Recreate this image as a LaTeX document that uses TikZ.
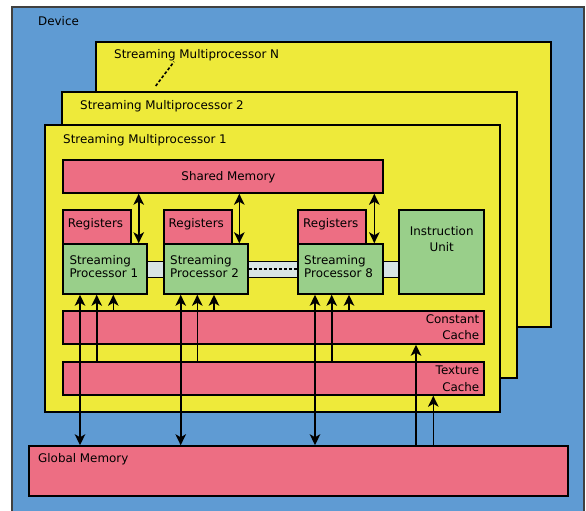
\documentclass[tikz,border=0pt]{standalone}
\usepackage{fontspec}
\setmainfont{DejaVu Sans}
\usetikzlibrary{arrows.meta,fit}
\definecolor{devblue}{RGB}{95,155,211}
\definecolor{smyellow}{RGB}{238,234,58}
\definecolor{mempink}{RGB}{237,110,131}
\definecolor{spgreen}{RGB}{153,207,138}
\definecolor{barcol}{RGB}{216,228,228}
\begin{document}
\begin{tikzpicture}[x=1pt,y=-1pt,
  box/.style={draw=black, line width=1.5pt, inner sep=0pt, rectangle},
  devbox/.style={box, draw=black!75, fill=devblue},
  smbox/.style={box, fill=smyellow},
  membox/.style={box, fill=mempink},
  spbox/.style={box, fill=spgreen},
  barbox/.style={box, line width=0.9pt, fill=barcol},
  lbl/.style={inner sep=0pt, font=\fontsize{11.9}{13}\selectfont, text=black},
  arr/.style={line width=1.6pt, -{Stealth[length=11pt,width=10.5pt,inset=3pt]}},
  dbl/.style={line width=1.6pt, {Stealth[length=11pt,width=10.5pt,inset=3pt]}-{Stealth[length=11pt,width=10.5pt,inset=3pt]}}
]
\useasboundingbox (0,0) rectangle (586,511);
% device
\node[devbox, fit={(12,7) (584,530)}] (dev) {};
\node[lbl, anchor=base west] (devl) at (38,25.5) {Device};
% multiprocessors
\node[smbox, fit={(96,42) (551,327)}] (smN) {};
\node[lbl, anchor=base west] (smNl) at (114,59) {Streaming Multiprocessor N};
\node[smbox, fit={(62,92) (517,378)}] (sm2) {};
\node[lbl, anchor=base west] (sm2l) at (80,109.5) {Streaming Multiprocessor 2};
\coordinate (dotA) at (155.7,86);
\coordinate (dotB) at (174,61.7);
\draw[line width=1.6pt, dash pattern=on 3pt off 2pt] (dotA) -- (dotB);
\node[smbox, fit={(45,125) (500,412)}] (sm1) {};
\node[lbl, anchor=base west] (sm1l) at (63,143) {Streaming Multiprocessor 1};
% shared memory
\node[membox, fit={(63,160) (383,193)}] (shm) {};
\node[lbl, anchor=base] (shml) at (228.5,180.5) {Shared Memory};
% bar
\node[barbox, fit={(147,261) (399,277)}] (bar) {};
% registers and processors
\node[membox, fit={(63,210) (131,244)}] (reg1) {};
\node[lbl, anchor=base west] (reg1l) at (67.7,227) {Registers};
\node[spbox, fit={(63,244) (147,294)}] (sp1) {};
\node[lbl, anchor=base west, align=left] (sp1l) at (69.3,277) {Streaming\\[-0.6pt]Processor 1};
\node[membox, fit={(164,210) (232,244)}] (reg2) {};
\node[lbl, anchor=base west] (reg2l) at (168.5,227) {Registers};
\node[spbox, fit={(164,244) (248,294)}] (sp2) {};
\node[lbl, anchor=base west, align=left] (sp2l) at (170,277) {Streaming\\[-0.6pt]Processor 2};
\node[membox, fit={(298,210) (366,244)}] (reg8) {};
\node[lbl, anchor=base west] (reg8l) at (303,227) {Registers};
\node[spbox, fit={(298,244) (383,294)}] (sp8) {};
\node[lbl, anchor=base west, align=left] (sp8l) at (304,277) {Streaming\\[-0.6pt]Processor 8};
\node[spbox, fit={(399,210) (484,294)}] (iu) {};
\node[lbl, anchor=base, align=center] (iul) at (441.7,251.7) {Instruction\\[3.3pt]Unit};
\draw[line width=1.3pt, dash pattern=on 3pt off 2pt] (sp2.east |- bar) -- (sp8.west |- bar);
% caches
\node[membox, fit={(63,311) (484,344)}] (cc) {};
\node[lbl, anchor=base east, align=right] (ccl) at (479.5,339) {Constant\\[2.7pt]Cache};
\node[membox, fit={(63,362) (484,395)}] (tc) {};
\node[lbl, anchor=base east, align=right] (tcl) at (479.5,391) {Texture\\[3.7pt]Cache};
% global memory
\node[membox, fit={(29,446) (568,496)}] (gm) {};
\node[lbl, anchor=base west] (gml) at (38,462.3) {Global Memory};
% arrow x positions
\coordinate (a1) at (138.7,0);
\coordinate (a2) at (239.3,0);
\coordinate (a3) at (374.3,0);
\coordinate (p11) at (80,0);
\coordinate (p12) at (96.7,0);
\coordinate (p13) at (113.3,0);
\coordinate (p21) at (180.7,0);
\coordinate (p22) at (197.3,0);
\coordinate (p23) at (214,0);
\coordinate (p81) at (315,0);
\coordinate (p82) at (331.7,0);
\coordinate (p83) at (349,0);
\coordinate (g1) at (416,0);
\coordinate (g2) at (433.3,0);
% shared memory <-> processors
\draw[dbl] (shm.south -| a1) -- (sp1.north -| a1);
\draw[dbl] (shm.south -| a2) -- (sp2.north -| a2);
\draw[dbl] (shm.south -| a3) -- (sp8.north -| a3);
% processors to global/texture/constant
\draw[dbl] (gm.north -| p11) -- (sp1.south -| p11);
\draw[arr] (tc.north -| p12) -- (sp1.south -| p12);
\draw[arr] (cc.north -| p13) -- (sp1.south -| p13);
\draw[dbl] (gm.north -| p21) -- (sp2.south -| p21);
\draw[arr] (tc.north -| p22) -- (sp2.south -| p22);
\draw[arr] (cc.north -| p23) -- (sp2.south -| p23);
\draw[dbl] (gm.north -| p81) -- (sp8.south -| p81);
\draw[arr] (tc.north -| p82) -- (sp8.south -| p82);
\draw[arr] (cc.north -| p83) -- (sp8.south -| p83);
% global memory to caches
\draw[arr] (gm.north -| g1) -- (cc.south -| g1);
\draw[arr] (gm.north -| g2) -- (tc.south -| g2);
\end{tikzpicture}
\end{document}
